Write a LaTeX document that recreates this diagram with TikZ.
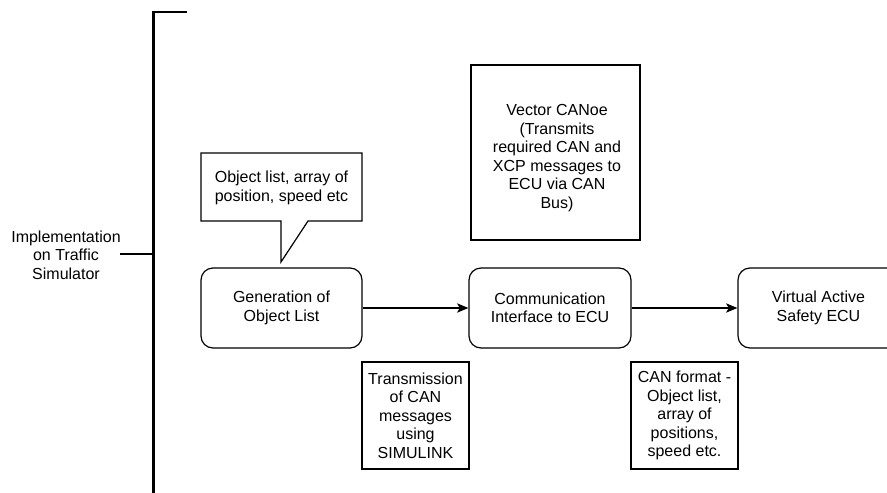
\documentclass[tikz,border=0pt]{standalone}
\usepackage{fontspec}
\setmainfont{Liberation Sans}
\usetikzlibrary{arrows.meta}
\begin{document}
\begin{tikzpicture}[x=0.75pt,y=-0.75pt,
  every node/.style={font=\fontsize{12}{13.9}\selectfont, align=center, inner sep=0pt},
  rbox/.style={draw, line width=0.9pt, rounded corners=9pt, minimum height=60pt},
  sbox/.style={draw, line width=0.9pt},
  conn/.style={line width=0.9pt, -{Stealth[length=8.5pt,width=7pt,inset=2pt]}},
  brk/.style={line width=2pt}]
\useasboundingbox (0,0) rectangle (887,492);
\clip (0,0) rectangle (887,492);

% left label and bracket
\node (impl) at (66,255) {Implementation\\on Traffic\\Simulator};
\coordinate (btop) at (153.5,12);
\coordinate (btopend) at (187,12);
\coordinate (bbot) at (153.5,500);
\coordinate (bmid) at (153.5,254);
\coordinate (tick) at (120,254);
\draw[brk] (btopend) -- (btop) -- (bbot);
\draw[brk] (tick) -- (bmid);

% callout
\draw[line width=0.9pt] (201,153) -- (362,153) -- (362,221) -- (308,221) -- (281,262) -- (281,221) -- (201,221) -- cycle;
\node (callout) at (281.5,188) {Object list, array of\\position, speed etc};

% main flow
\node[rbox, minimum width=120.75pt] (gen) at (281.5,308) {Generation of\\Object List};
\node[rbox, minimum width=121.5pt] (comm) at (550,308) {Communication\\Interface to ECU};
\node[rbox, minimum width=120.75pt] (ecu) at (818.5,308) {Virtual Active\\Safety ECU};
\draw[conn] (gen) -- (comm);
\draw[conn] (comm) -- (ecu);

% Vector CANoe box
\node[sbox, minimum width=126.75pt, minimum height=131.25pt] (vector) at (555.5,152.5) {};
\node (vectortext) at (557,158) {Vector CANoe\\(Transmits\\required CAN and\\XCP messages to\\ECU via CAN\\Bus)};

% lower boxes
\node[sbox, minimum width=80.25pt, minimum height=80.25pt] (trans) at (415.5,415.5) {Transmission\\of CAN\\messages\\using\\SIMULINK};
\node[sbox, minimum width=80.25pt, minimum height=80.25pt] (canfmt) at (684.5,415.5) {CAN format -\\Object list,\\array of\\positions,\\speed etc.};
\end{tikzpicture}
\end{document}
